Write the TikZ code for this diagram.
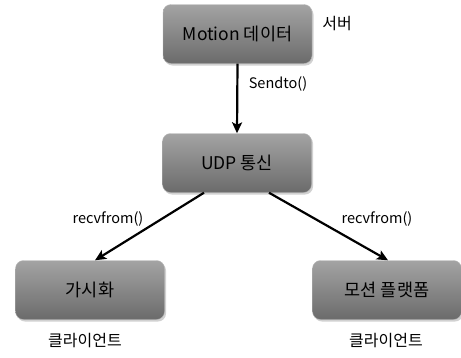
\documentclass[tikz,border=0pt]{standalone}
\usepackage{fontspec}
\setmainfont{Noto Sans CJK KR}
\usetikzlibrary{arrows.meta,shadows}
\begin{document}
\begin{tikzpicture}[x=1bp,y=-1bp,
  box/.style={draw=gray!55, line width=0.4bp, rounded corners=8bp, top color=black!36, bottom color=black!58,
    minimum width=149bp, minimum height=59bp, font=\fontsize{17.5bp}{20bp}\selectfont,
    drop shadow={shadow xshift=1.5bp, shadow yshift=-2bp, fill=black!30, opacity=0.6}},
  lbl/.style={font=\fontsize{14.5bp}{17bp}\selectfont, inner sep=0pt},
  klbl/.style={font=\fontsize{16bp}{18bp}\selectfont, inner sep=0pt},
  arr/.style={line width=2.2bp, -{Stealth[length=11bp,width=10bp,inset=2.5bp]}}]
\useasboundingbox (0,0) rectangle (461,357);
\node[box] (motion) at (237.5,34) {Motion 데이터};
\node[box] (udp) at (237,163) {UDP 통신};
\node[box] (vis) at (90,290) {가시화};
\node[box] (plat) at (387,290) {모션 플랫폼};
\node[klbl] (server) at (337,24) {서버};
\node[lbl] (send) at (278,84) {Sendto()};
\node[lbl] (recvl) at (108,219) {recvfrom()};
\node[lbl] (recvr) at (377,219) {recvfrom()};
\node[klbl] (cl) at (85,341) {클라이언트};
\node[klbl] (cr) at (386,341) {클라이언트};
\draw[arr] (motion.south) -- (udp.north);
\draw[arr] ([xshift=-33bp]udp.south) -- ([xshift=5bp]vis.north);
\draw[arr] ([xshift=32bp]udp.south) -- ([xshift=1bp]plat.north);
\end{tikzpicture}
\end{document}
